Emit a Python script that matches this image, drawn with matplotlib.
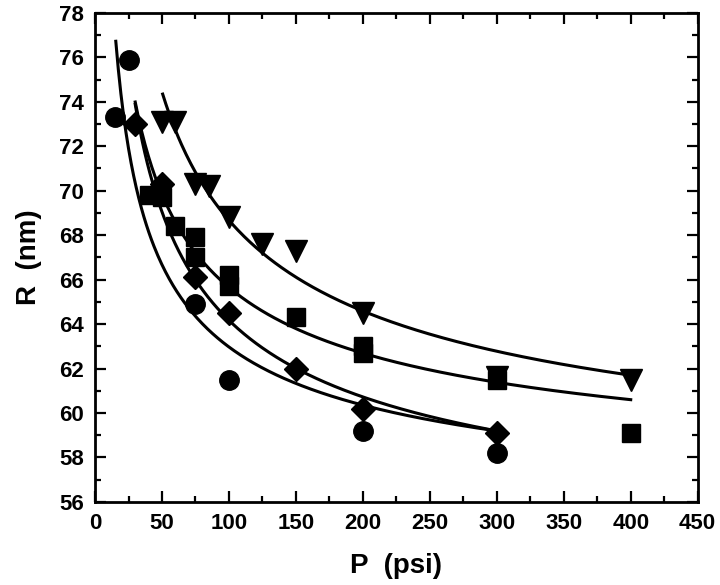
import numpy as np
import matplotlib.pyplot as plt
from matplotlib.ticker import MultipleLocator

plt.rcParams["font.family"] = ["Liberation Sans", "DejaVu Sans"]

# measured points, P (psi) vs R (nm)
circle_p = [15, 25, 75, 100, 200, 300]
circle_r = [73.3, 75.9, 64.9, 61.5, 59.2, 58.2]

diamond_p = [30, 50, 75, 100, 150, 200, 300]
diamond_r = [73.0, 70.3, 66.1, 64.5, 62.0, 60.2, 59.1]

square_p = [40, 50, 60, 75, 75, 100, 100, 150, 200, 200, 300, 400]
square_r = [69.8, 69.7, 68.4, 67.9, 67.0, 66.2, 65.7, 64.3, 63.0, 62.7, 61.5, 59.1]

triangle_p = [50, 60, 75, 85, 100, 125, 150, 200, 300, 400]
triangle_r = [73.1, 73.1, 70.3, 70.2, 68.8, 67.6, 67.3, 64.5, 61.6, 61.5]

# fitted curves R = a + b / sqrt(P), drawn over [p_start, p_end]
curve_a = [54.04, 52.4, 55.55, 54.73]
curve_b = [89.3, 117.7, 101.0, 139.4]
curve_start = [15.5, 30, 30, 50.5]
curve_end = [300, 300, 400, 400]

fig = plt.figure(figsize=(7.2, 5.85), dpi=100)
ax = fig.add_axes([0.132, 0.142, 0.837, 0.836])

for a, b, p0, p1 in zip(curve_a, curve_b, curve_start, curve_end):
    p = np.linspace(p0, p1, 300)
    ax.plot(p, a + b / np.sqrt(p), color="black", linewidth=2.2, zorder=2)

ax.plot(circle_p, circle_r, "o", color="black", markersize=14, zorder=3)
ax.plot(diamond_p, diamond_r, "D", color="black", markersize=12, zorder=3)
ax.plot(square_p, square_r, "s", color="black", markersize=13, zorder=3)
ax.plot(triangle_p, triangle_r, "v", color="black", markersize=16, zorder=3)

ax.set_xlim(0, 450)
ax.set_ylim(56, 78)
ax.xaxis.set_major_locator(MultipleLocator(50))
ax.xaxis.set_minor_locator(MultipleLocator(25))
ax.yaxis.set_major_locator(MultipleLocator(2))
ax.yaxis.set_minor_locator(MultipleLocator(1))
ax.tick_params(which="both", direction="in", top=True, right=True, width=1.6)
ax.tick_params(which="major", length=8, labelsize=16, pad=8)
ax.tick_params(which="minor", length=4)
for label in ax.get_xticklabels() + ax.get_yticklabels():
    label.set_fontweight("bold")
for spine in ax.spines.values():
    spine.set_linewidth(2)

ax.set_xlabel("P  (psi)", fontsize=20, fontweight="bold", labelpad=14)
ax.set_ylabel("R  (nm)", fontsize=20, fontweight="bold", labelpad=12)

fig.savefig("out.png", dpi=100)
